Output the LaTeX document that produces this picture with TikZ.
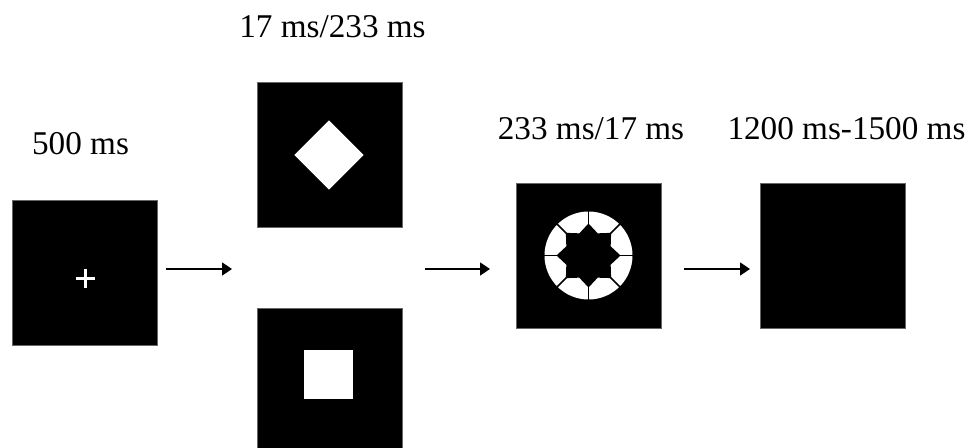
\documentclass[tikz,border=0pt]{standalone}
\usepackage{fontspec}
\setmainfont{Liberation Serif}
\usetikzlibrary{arrows.meta, positioning}

\begin{document}
\begin{tikzpicture}[x=0.5pt, y=-0.5pt,
    screen/.style={draw=black!60, line width=0.3pt, fill=black, minimum size=72.5pt, inner sep=0pt},
    stim/.style={fill=white, minimum size=24.5pt, inner sep=0pt},
    dur/.style={anchor=base, font=\fontsize{16.6}{19}\selectfont},
    flow/.style={-{Triangle[length=5pt,width=6.5pt]}, line width=0.9pt}]
    \useasboundingbox (0,0) rectangle (971,448);

    \node[screen] (fix) at (84.5,273) {};
    \node[screen] (tgt1) at (329.5,154.5) {};
    \node[screen] (tgt2) at (329.5,380.5) {};
    \node[screen] (mask) at (588.5,255.5) {};
    \node[screen] (blank) at (833,255.5) {};

    \node[dur] (t1) at (80.5,155) {500 ms};
    \node[dur] (t2) at (332.5,38) {17 ms/233 ms};
    \node[dur] (t3) at (591,140) {233 ms/17 ms};
    \node[dur] (t4) at (846.5,140) {1200 ms-1500 ms};

    % fixation cross
    \coordinate (cross) at (85,279);
    \draw[white, line width=1.5pt] ([xshift=-4.75pt]cross) -- ([xshift=4.75pt]cross);
    \draw[white, line width=1.5pt] ([yshift=-4.75pt]cross) -- ([yshift=4.75pt]cross);

    % targets
    \node[stim, rotate=45] (diam) at (329,155) {};
    \node[stim] (sqr) at (328.5,374.5) {};

    % mask
    \fill[white] (mask.center) circle [radius=22pt];
    \fill[black] ([shift={(0:16pt)}]mask.center)
        \foreach \a in {0,45,...,315} {
            -- ([shift={(\a+22.5:12pt)}]mask.center) -- ([shift={(\a+45:16pt)}]mask.center)
        } -- cycle;
    \foreach \a in {0,45,...,315}
        \draw[line width=0.8pt] ([shift={(\a:15pt)}]mask.center) -- ([shift={(\a:22.5pt)}]mask.center);

    \coordinate (a1s) at (166,269);
    \coordinate (a1e) at (232,269);
    \coordinate (a2s) at (425,269);
    \coordinate (a2e) at (490,269);
    \coordinate (a3s) at (684,269);
    \coordinate (a3e) at (750,269);
    \draw[flow] (a1s) -- (a1e);
    \draw[flow] (a2s) -- (a2e);
    \draw[flow] (a3s) -- (a3e);
\end{tikzpicture}
\end{document}
